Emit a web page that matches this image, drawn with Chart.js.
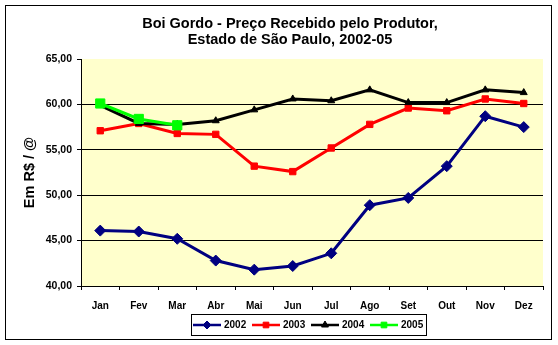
<!DOCTYPE html>
<html>
<head>
<meta charset="utf-8">
<script src="https://cdn.jsdelivr.net/npm/chart.js@4.4.0/dist/chart.umd.min.js"></script>
<style>
  html, body { margin: 0; padding: 0; background: #fff; }
  #chartBox { width: 558px; height: 345px; }
</style>
</head>
<body>
<div id="chartBox"><canvas id="priceChart" width="558" height="345"></canvas></div>
<script>
// Boi gordo, preço médio mensal recebido pelo produtor (R$ por arroba)
const months = ['Jan', 'Fev', 'Mar', 'Abr', 'Mai', 'Jun', 'Jul', 'Ago', 'Set', 'Out', 'Nov', 'Dez'];
const years = ['2002', '2003', '2004', '2005'];
const price2002 = [46.1, 46.0, 45.2, 42.8, 41.8, 42.2, 43.6, 48.9, 49.7, 53.2, 58.7, 57.5];
const price2003 = [57.1, 57.9, 56.8, 56.7, 53.2, 52.6, 55.2, 57.8, 59.6, 59.3, 60.6, 60.1];
const price2004 = [59.9, 57.9, 57.8, 58.2, 59.4, 60.6, 60.4, 61.6, 60.2, 60.2, 61.6, 61.3];
const price2005 = [60.1, 58.4, 57.7];
const yTicks = [40, 45, 50, 55, 60, 65];
const titleLines = ['Boi Gordo - Preço Recebido pelo Produtor,', 'Estado de São Paulo, 2002-05'];

const FONT = 'Liberation Sans, Arial, sans-serif';

function series(label, data, color, style, radius, order) {
    return {
        label: label,
        data: data,
        borderColor: color,
        backgroundColor: color,
        borderWidth: 3,
        pointStyle: style,
        pointRadius: radius,
        pointHoverRadius: radius,
        pointBorderWidth: 1,
        tension: 0,
        order: order
    };
}

// yellow plot background, outer frame and the two-line heading
const framePlugin = {
    id: 'frame',
    beforeDraw(chart) {
        const ctx = chart.ctx;
        const a = chart.chartArea;
        ctx.save();
        ctx.fillStyle = '#fff';
        ctx.fillRect(0, 0, chart.width, chart.height);
        ctx.fillStyle = '#FFFFCC';
        ctx.fillRect(a.left, a.top, a.right - a.left, a.bottom - a.top);
        ctx.strokeStyle = '#000';
        ctx.lineWidth = 1;
        ctx.strokeRect(5.5, 5.5, 546, 334);

        ctx.fillStyle = '#000';
        ctx.font = 'bold 14.5px ' + FONT;
        ctx.textAlign = 'center';
        ctx.textBaseline = 'middle';
        titleLines.forEach((line, i) => ctx.fillText(line, 290, 24 + i * 16));
        ctx.restore();
    }
};

// boxed legend under the axis: line with marker, then the year
const boxLegend = {
    id: 'boxLegend',
    afterDraw(chart) {
        const ctx = chart.ctx;
        const left = 191, top = 314, w = 235, h = 21;
        const cy = top + h / 2 + 0.5;
        ctx.save();
        ctx.strokeStyle = '#000';
        ctx.lineWidth = 1;
        ctx.strokeRect(left + 0.5, top + 0.5, w, h);
        ctx.font = 'bold 10px ' + FONT;
        ctx.textBaseline = 'middle';
        ctx.textAlign = 'left';
        chart.data.datasets.forEach((ds, i) => {
            const x0 = 193 + i * 59;
            ctx.strokeStyle = ds.borderColor;
            ctx.lineWidth = 2.5;
            ctx.beginPath();
            ctx.moveTo(x0, cy);
            ctx.lineTo(x0 + 28, cy);
            ctx.stroke();
            ctx.fillStyle = ds.backgroundColor;
            ctx.lineWidth = 1;
            Chart.helpers.drawPoint(ctx, {
                pointStyle: ds.pointStyle,
                radius: Math.min(ds.pointRadius, 4),
                borderWidth: 1,
                rotation: 0
            }, x0 + 14, cy);
            ctx.fillStyle = '#000';
            ctx.fillText(ds.label, x0 + 31, cy);
        });
        ctx.restore();
    }
};

const ctx = document.getElementById('priceChart').getContext('2d');
new Chart(ctx, {
    type: 'line',
    data: {
        labels: months,
        datasets: [
            series(years[0], price2002, '#000080', 'rectRot', 5.5, 3),
            series(years[1], price2003, '#FF0000', 'rect', 4.5, 2),
            series(years[2], price2004, '#000000', 'triangle', 4, 1),
            series(years[3], price2005, '#00FF00', 'rect', 6.5, 0)
        ]
    },
    options: {
        responsive: false,
        animation: false,
        devicePixelRatio: 1,
        layout: { padding: { left: 0, right: 15, top: 59, bottom: 33 } },
        plugins: {
            legend: { display: false },
            tooltip: { enabled: false },
            title: { display: false }
        },
        scales: {
            x: {
                offset: true,
                grid: {
                    offset: true,
                    drawOnChartArea: false,
                    tickColor: '#000',
                    tickLength: 4
                },
                border: { color: '#000', width: 1 },
                ticks: {
                    color: '#000',
                    padding: 10,
                    maxRotation: 0,
                    autoSkip: false,
                    font: { family: FONT, size: 10, weight: 'bold' }
                },
                afterFit(scale) { scale.height = 26; }
            },
            y: {
                min: 40,
                max: 65,
                afterBuildTicks(scale) { scale.ticks = yTicks.map(v => ({ value: v })); },
                grid: {
                    color: c => (c.tick && c.tick.value === 65 ? 'rgba(0,0,0,0)' : '#000'),
                    tickColor: '#000',
                    tickLength: 4
                },
                border: { color: '#000', width: 1 },
                ticks: {
                    color: '#000',
                    padding: 5,
                    font: { family: FONT, size: 10.5, weight: 'bold' },
                    callback: v => v.toFixed(2).replace('.', ',')
                },
                title: {
                    display: true,
                    text: 'Em R$ / @',
                    color: '#000',
                    font: { family: FONT, size: 14.5, weight: 'bold' },
                    padding: { top: 21, bottom: 0 }
                },
                afterFit(scale) { scale.width = 81; }
            }
        }
    },
    plugins: [framePlugin, boxLegend]
});
</script>
</body>
</html>
